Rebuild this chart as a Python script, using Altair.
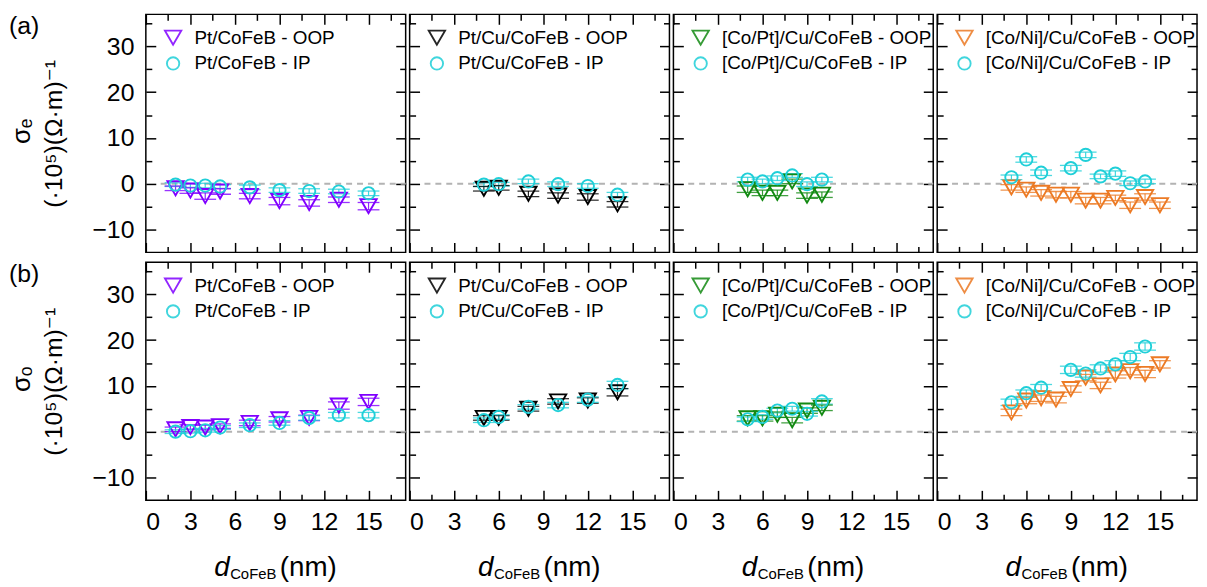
import altair as alt
import pandas as pd

# ---------------- data ----------------
SAMPLES = ["Pt/CoFeB", "Pt/Cu/CoFeB", "[Co/Pt]/Cu/CoFeB", "[Co/Ni]/Cu/CoFeB"]
OOP_COLORS = ["#8000ff", "#000000", "#138a13", "#ec7a24"]
IP_COLOR = "#1fcfd8"

# thickness d_CoFeB (nm)
X_OOP = [
    [2, 3, 4, 5, 7, 9, 11, 13, 15],
    [5, 6, 8, 10, 12, 14],
    [5, 6, 7, 8, 9, 10],
    [5, 6, 7, 8, 9, 10, 11, 12, 13, 14, 15],
]
X_IP = [
    [2, 3, 4, 5, 7, 9, 11, 13, 15],
    [5, 6, 8, 10, 12, 14],
    [5, 6, 7, 8, 9, 10],
    [5, 6, 7, 9, 10, 11, 12, 13, 14],
]

# (a) sigma_e
SE_OOP = [
    [-1.0, -1.5, -2.7, -1.7, -2.7, -3.8, -4.2, -3.5, -4.9],
    [-1.1, -0.9, -2.2, -2.6, -2.9, -4.5],
    [-1.2, -2.0, -2.0, 0.5, -2.6, -2.4],
    [-0.8, -1.3, -2.0, -2.4, -2.4, -3.7, -3.7, -3.1, -4.7, -2.9, -4.7],
]
SE_IP = [
    [-0.2, -0.4, -0.4, -0.6, -0.8, -1.4, -1.6, -1.7, -2.1],
    [-0.2, -0.1, 0.5, -0.1, -0.5, -2.4],
    [0.9, 0.5, 1.2, 1.8, -0.1, 0.9],
    [1.4, 5.3, 2.4, 3.4, 6.3, 1.6, 2.2, 0.1, 0.5],
]
SE_OOP_ERR = [
    [0.5, 0.6, 0.7, 0.6, 0.6, 0.8, 0.7, 0.6, 0.8],
    [0.5, 0.5, 0.6, 0.6, 0.7, 0.6],
    [0.7, 0.6, 0.6, 0.5, 0.6, 0.6],
    [0.6, 0.6, 0.7, 0.7, 0.7, 0.7, 0.7, 0.6, 0.7, 0.7, 0.7],
]
SE_IP_ERR = [
    [0.4, 0.4, 0.5, 0.4, 0.5, 0.5, 0.5, 0.5, 0.5],
    [0.4, 0.4, 0.5, 0.5, 0.5, 0.5],
    [0.5, 0.5, 0.5, 0.4, 0.5, 0.5],
    [0.5, 0.6, 0.6, 0.6, 0.6, 0.5, 0.6, 0.5, 0.5],
]

# (b) sigma_o
SO_OOP = [
    [0.5, 1.0, 0.9, 1.2, 1.9, 2.7, 3.0, 5.7, 6.5],
    [3.0, 3.0, 5.0, 6.6, 6.8, 8.6],
    [2.9, 2.9, 3.7, 2.5, 4.6, 5.2],
    [4.2, 6.8, 7.3, 7.0, 9.3, 11.8, 10.1, 12.5, 13.2, 12.6, 14.7],
]
SO_IP = [
    [0.0, 0.1, 0.3, 0.9, 1.4, 1.9, 3.0, 3.6, 3.6],
    [2.5, 3.2, 5.4, 5.8, 7.0, 10.2],
    [2.7, 3.2, 4.6, 5.0, 3.9, 6.6],
    [6.4, 8.4, 9.6, 13.5, 12.7, 13.8, 14.7, 16.3, 18.6],
]
SO_OOP_ERR = [
    [0.5, 0.5, 0.5, 0.5, 0.6, 0.6, 0.6, 0.8, 0.8],
    [0.5, 0.5, 0.5, 0.6, 0.6, 0.8],
    [0.6, 0.6, 0.6, 0.6, 0.6, 0.6],
    [0.7, 0.7, 0.7, 0.7, 0.7, 0.7, 0.7, 0.8, 0.8, 0.8, 0.8],
]
SO_IP_ERR = [
    [0.4, 0.4, 0.4, 0.4, 0.5, 0.5, 0.5, 0.6, 0.6],
    [0.5, 0.5, 0.5, 0.6, 0.6, 0.8],
    [0.5, 0.5, 0.5, 0.5, 0.5, 0.6],
    [0.7, 0.7, 0.7, 0.8, 0.8, 0.8, 0.8, 0.8, 0.8],
]

ROW_SYMBOLS = ["σₑ", "σₒ"]
UNIT_TITLE = "(·10⁵)(Ω·m)⁻¹"
ROW_TAGS = ["(a)", "(b)"]

X_MAJOR = [0, 3, 6, 9, 12, 15]
X_MINOR = [1.5, 4.5, 7.5, 10.5, 13.5, 16.5]
Y_MAJOR = [-10, 0, 10, 20, 30]
Y_MINOR = [-5, 5, 15, 25, 35]
X_DOMAIN = [0, 17.5]
Y_DOMAIN = [-15, 37]
ZERO_LINE = [1.0, 17.5]

# ---------------- layout ----------------
W, H = 262, 240
FONT = "Liberation Sans, Arial, DejaVu Sans"
MAJ, MIN = 10, 6

xs = alt.Scale(domain=X_DOMAIN, nice=False, zero=False)
ys = alt.Scale(domain=Y_DOMAIN, nice=False, zero=False)


def tick_axis(orient, values, size, **kw):
    return alt.Axis(orient=orient, values=values, tickSize=size, offset=-size,
                    domain=False, grid=False, ticks=True, tickColor="black",
                    tickWidth=1.5, minExtent=0, **kw)


def panel(row, col):
    oop_name = SAMPLES[col] + " - OOP"
    ip_name = SAMPLES[col] + " - IP"
    ys_o = (SE_OOP if row == 0 else SO_OOP)[col]
    ys_i = (SE_IP if row == 0 else SO_IP)[col]
    er_o = (SE_OOP_ERR if row == 0 else SO_OOP_ERR)[col]
    er_i = (SE_IP_ERR if row == 0 else SO_IP_ERR)[col]
    recs = []
    for x, y, e in zip(X_OOP[col], ys_o, er_o):
        recs.append(dict(x=x, y=y, ylo=y - e, yhi=y + e, series=oop_name,
                         hex=OOP_COLORS[col]))
    for x, y, e in zip(X_IP[col], ys_i, er_i):
        recs.append(dict(x=x, y=y, ylo=y - e, yhi=y + e, series=ip_name,
                         hex=IP_COLOR))
    df = pd.DataFrame(recs)
    dom = [oop_name, ip_name]

    if row == 1:
        x_main = tick_axis("bottom", X_MAJOR, MAJ, labels=True, labelPadding=9,
                           labelFontSize=25, title=None)
    else:
        x_main = tick_axis("bottom", X_MAJOR, MAJ, labels=False, title=None)
    if col == 0:
        y_main = tick_axis("left", Y_MAJOR, MAJ, labels=True, labelPadding=12,
                           labelFontSize=25, title=UNIT_TITLE,
                           titlePadding=26, titleFontSize=25)
    else:
        y_main = tick_axis("left", Y_MAJOR, MAJ, labels=False, title=None)

    lg = alt.Legend(orient="none", legendX=18, legendY=14, title=None,
                    labelFontSize=19, labelFont=FONT, labelColor="black",
                    labelLimit=0, symbolStrokeWidth=1.9, rowPadding=4,
                    labelOffset=12, padding=0)

    zero = alt.Chart(pd.DataFrame({"x1": [ZERO_LINE[0]], "x2": [ZERO_LINE[1]], "y0": [0]})).mark_rule(
        color="#b3b3b3", strokeDash=[6, 5], strokeWidth=2
    ).encode(
        x=alt.X("x1:Q", scale=xs, axis=tick_axis("top", X_MAJOR, MAJ, labels=False, title=None)),
        x2="x2:Q",
        y=alt.Y("y0:Q", scale=ys, axis=tick_axis("right", Y_MAJOR, MAJ, labels=False, title=None)),
    )
    bars = alt.Chart(df).mark_rule(strokeWidth=1.2, opacity=0.85).encode(
        x=alt.X("x:Q", scale=xs, axis=tick_axis("bottom", X_MINOR, MIN, labels=False, title=None)),
        y=alt.Y("ylo:Q", scale=ys, axis=tick_axis("left", Y_MINOR, MIN, labels=False, title=None)),
        y2="yhi:Q",
        color=alt.Color("hex:N", scale=None),
    )
    cap_lo = alt.Chart(df).mark_tick(orient="horizontal", size=22, thickness=1.3, opacity=0.8).encode(
        x=alt.X("x:Q", scale=xs, axis=tick_axis("top", X_MINOR, MIN, labels=False, title=None)),
        y=alt.Y("ylo:Q", scale=ys, axis=tick_axis("right", Y_MINOR, MIN, labels=False, title=None)),
        color=alt.Color("hex:N", scale=None),
    )
    cap_hi = alt.Chart(df).mark_tick(orient="horizontal", size=22, thickness=1.3, opacity=0.8).encode(
        x=alt.X("x:Q", scale=xs, axis=None),
        y=alt.Y("yhi:Q", scale=ys, axis=None),
        color=alt.Color("hex:N", scale=None),
    )
    pts = alt.Chart(df).mark_point(filled=False, strokeWidth=1.9, opacity=1).encode(
        x=alt.X("x:Q", scale=xs, axis=x_main),
        y=alt.Y("y:Q", scale=ys, axis=y_main),
        color=alt.Color("series:N", scale=alt.Scale(domain=dom, range=[OOP_COLORS[col], IP_COLOR]), legend=lg),
        shape=alt.Shape("series:N", scale=alt.Scale(domain=dom, range=["triangle-down", "circle"]), legend=lg),
        size=alt.Size("series:N", scale=alt.Scale(domain=dom, range=[270, 155]), legend=lg),
    )
    layers = [zero, bars, cap_lo, cap_hi, pts]

    one = pd.DataFrame({"k": [0]})
    if col == 0:
        layers.append(alt.Chart(one).mark_text(align="left", baseline="top", fontSize=25,
                                               font=FONT, color="black").encode(
            x=alt.value(-138), y=alt.value(0), text=alt.value(ROW_TAGS[row])))
        layers.append(alt.Chart(one).mark_text(align="center", baseline="middle", fontSize=26,
                                               angle=270, font=FONT, color="black").encode(
            x=alt.value(-125), y=alt.value(H / 2 - 2), text=alt.value(ROW_SYMBOLS[row])))
    if row == 1:
        layers.append(alt.Chart(one).mark_text(align="left", baseline="alphabetic", fontSize=28,
                                               fontStyle="italic", font=FONT, color="black").encode(
            x=alt.value(69), y=alt.value(H + 76), text=alt.value("d")))
        layers.append(alt.Chart(one).mark_text(align="left", baseline="alphabetic", fontSize=15,
                                               font=FONT, color="black").encode(
            x=alt.value(85), y=alt.value(H + 79), text=alt.value("CoFeB")))
        layers.append(alt.Chart(one).mark_text(align="left", baseline="alphabetic", fontSize=28,
                                               font=FONT, color="black").encode(
            x=alt.value(135), y=alt.value(H + 76), text=alt.value("(nm)")))

    return alt.layer(*layers).resolve_axis(x="independent", y="independent").properties(
        width=W, height=H)


rows = []
for r in range(2):
    rows.append(alt.hconcat(*[panel(r, c) for c in range(4)], spacing=0).resolve_scale(
        color="independent", shape="independent", size="independent"))

chart = alt.vconcat(*rows, spacing=6).properties(
    padding={"left": 0, "top": 2, "right": 0, "bottom": 0}
).configure_view(stroke="black", strokeWidth=1.5).configure_axis(
    labelFont=FONT, labelColor="black", titleFont=FONT, titleColor="black",
    titleFontWeight="normal", minExtent=0
)

chart.save("out.html", embed_options={"renderer": "svg", "actions": False})
